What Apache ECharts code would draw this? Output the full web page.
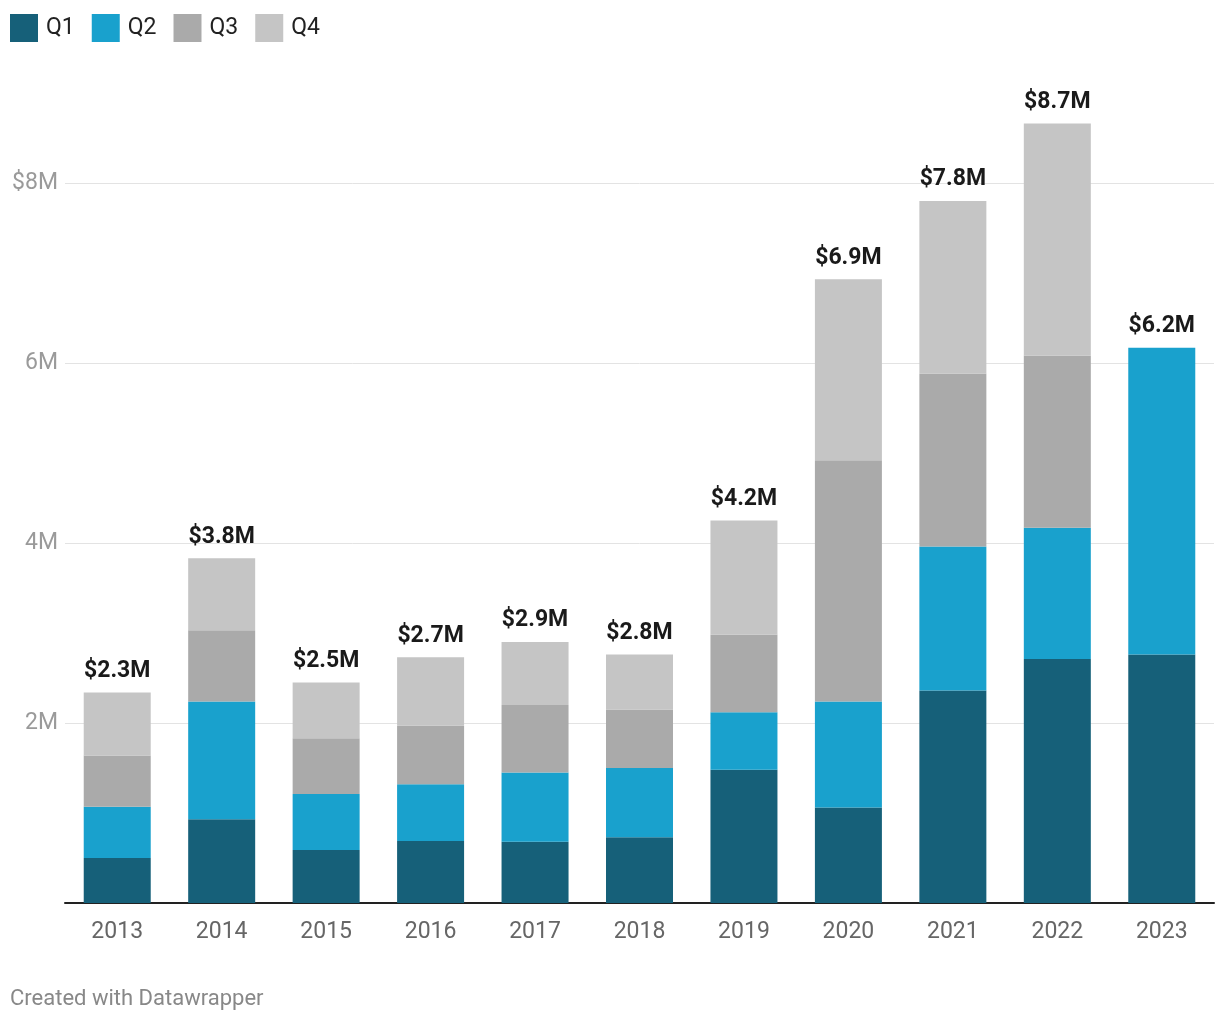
<!DOCTYPE html>
<html>
<head>
<meta charset="utf-8">
<script src="https://cdn.jsdelivr.net/npm/echarts@6/dist/echarts.min.js"></script>
<style>
html,body{margin:0;padding:0;background:#fff;}
#chart{width:1220px;height:1020px;}
</style>
</head>
<body>
<div id="chart"></div>
<script>
const years = ['2013','2014','2015','2016','2017','2018','2019','2020','2021','2022','2023'];
const q1 = [0.50, 0.93, 0.59, 0.69, 0.68, 0.73, 1.48, 1.06, 2.36, 2.71, 2.76];
const q2 = [0.57, 1.31, 0.62, 0.63, 0.77, 0.77, 0.64, 1.18, 1.60, 1.46, 3.41];
const q3 = [0.57, 0.79, 0.62, 0.65, 0.75, 0.65, 0.86, 2.68, 1.92, 1.91, null];
const q4 = [0.70, 0.80, 0.62, 0.76, 0.70, 0.61, 1.27, 2.01, 1.92, 2.58, null];
const totalLabels = ['$2.3M','$3.8M','$2.5M','$2.7M','$2.9M','$2.8M','$4.2M','$6.9M','$7.8M','$8.7M','$6.2M'];
const seriesNames = ['Q1','Q2','Q3','Q4'];
const colors = ['#166079','#19a1cd','#aaaaaa','#c5c5c5'];

const totals = years.map((_, i) => [q1,q2,q3,q4].reduce((s, a) => s + (a[i] || 0), 0));

const chart = echarts.init(document.getElementById('chart'));
const font = 'Roboto, sans-serif';
const barSeries = [q1,q2,q3,q4].map((d, k) => ({
  name: seriesNames[k],
  type: 'bar',
  stack: 'total',
  data: d,
  barWidth: 67,
  itemStyle: { color: colors[k] },
  emphasis: { disabled: true }
}));

chart.setOption({
  animation: false,
  textStyle: { fontFamily: font },
  color: colors,
  legend: {
    data: seriesNames,
    left: 10,
    top: 14,
    padding: 0,
    itemWidth: 28,
    itemHeight: 28,
    itemGap: 17,
    icon: 'rect',
    textStyle: { fontSize: 23, color: '#222', fontFamily: font, padding: [0,0,0,3] }
  },
  grid: { left: 65, right: 6, top: 93, bottom: 117 },
  xAxis: {
    type: 'category',
    data: years,
    axisLine: { lineStyle: { color: '#222', width: 2 } },
    axisTick: { show: false },
    axisLabel: { fontSize: 23, color: '#666', margin: 18, fontFamily: font }
  },
  yAxis: {
    type: 'value',
    min: 0,
    max: 9,
    interval: 2,
    axisLine: { show: false },
    axisTick: { show: false },
    splitLine: { showMinLine: false, showMaxLine: false, lineStyle: { color: '#e3e3e3', width: 1 } },
    axisLabel: {
      showMaxLabel: false,
      showMinLabel: false,
      fontSize: 23, color: '#9a9a9a', margin: 7, fontFamily: font,
      formatter: v => v === 8 ? '$8M' : (v === 0 ? '' : v + 'M')
    }
  },
  series: barSeries.concat([{
    name: 'Total',
    type: 'scatter',
    data: totals,
    symbol: 'circle',
    symbolSize: 2,
    itemStyle: { color: 'rgba(0,0,0,0)', opacity: 1 },
    silent: true,
    z: 10,
    label: {
      show: true,
      position: 'top',
      distance: 9,
      fontSize: 23,
      fontWeight: 'bold',
      color: '#1a1a1a',
      opacity: 1,
      fontFamily: font,
      formatter: p => totalLabels[p.dataIndex]
    },
    labelLayout: { hideOverlap: false }
  }])
});
</script>
<div style="position:absolute;left:10px;top:985px;font-family:Roboto,sans-serif;font-size:22px;color:#888;">Created with Datawrapper</div>
</body>
</html>
